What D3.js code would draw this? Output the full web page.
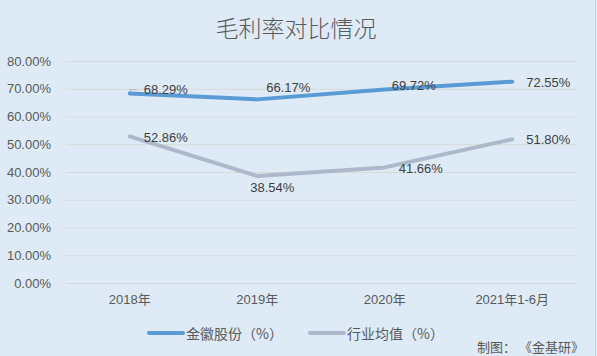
<!DOCTYPE html>
<html><head><meta charset="utf-8">
<script src="https://cdn.jsdelivr.net/npm/d3@7"></script>
<style>body{margin:0;padding:0;background:#deebf7;}svg{display:block;}</style>
</head><body>
<script>
const categories = ["2018年", "2019年", "2020年", "2021年1-6月"];
const seriesNames = ["金徽股份（%）", "行业均值（%）"];
const companyValues = [68.29, 66.17, 69.72, 72.55];
const industryValues = [52.86, 38.54, 41.66, 51.80];
const yTicks = [0, 10, 20, 30, 40, 50, 60, 70, 80];
const title = "毛利率对比情况";
const source = "制图： 《金基研》";

// label placement (layout only): [dx from point, dy of text centre]
const companyLabelOffsets = [[14, -3.5], [9, -11.5], [7, -4.5], [14, 1]];
const industryLabelOffsets = [[14, 1], [-7, 11], [14, 1.5], [14, 0.5]];

const W = 597, H = 356;
const colors = ["#5b9bd5", "#adb9ca"];
const latin = "'Liberation Sans', Arial, 'Noto Sans CJK SC', sans-serif";
const cjk = "'Noto Sans CJK SC', 'Liberation Sans', sans-serif";

const svg = d3.select("body").append("svg").attr("width", W).attr("height", H);
svg.append("rect").attr("width", W).attr("height", H).attr("fill", "#deebf7");
svg.append("line").attr("x1", 595.5).attr("x2", 595.5).attr("y1", 0).attr("y2", H)
  .attr("stroke", "#c8d2dc").attr("stroke-width", 1);

const x = d3.scaleBand().domain(categories).range([66, 576]);
const y = d3.scaleLinear().domain([0, 80]).range([283, 61]);
const cx = d => x(d) + x.bandwidth() / 2;

// title
svg.append("text").attr("x", 296).attr("y", 27).attr("text-anchor", "middle")
  .attr("dominant-baseline", "central").attr("font-family", cjk).attr("font-size", 23)
  .attr("font-weight", 300).attr("fill", "#595959").text(title);

// gridlines + y labels
const yAxis = svg.append("g").attr("transform", "translate(66,0)")
  .call(d3.axisLeft(y).tickValues(yTicks).tickSize(-510).tickPadding(15)
    .tickFormat(d => d.toFixed(2) + "%"));
yAxis.select(".domain").remove();
yAxis.selectAll(".tick line").attr("stroke", "#d9d9d9").attr("stroke-width", 1);
yAxis.selectAll(".tick text").attr("fill", "#595959").attr("font-family", latin)
  .attr("font-size", 13);

// x labels
const xAxis = svg.append("g").attr("transform", "translate(0,283)")
  .call(d3.axisBottom(x).tickSize(0).tickPadding(12));
xAxis.select(".domain").remove();
xAxis.selectAll(".tick text").attr("fill", "#595959").attr("font-family", latin)
  .attr("font-size", 13);

const line = d3.line().x((d, i) => cx(categories[i])).y(d => y(d));
const series = [companyValues, industryValues];
const offsets = [companyLabelOffsets, industryLabelOffsets];

series.slice().reverse().forEach((vals, k) => {
  const idx = series.length - 1 - k;
  svg.append("path").datum(vals).attr("d", line).attr("fill", "none")
    .attr("stroke", colors[idx]).attr("stroke-width", 4)
    .attr("stroke-linecap", "round").attr("stroke-linejoin", "round");
});

// leader line for first company label
{
  const px = cx(categories[0]), py = y(companyValues[0]);
  svg.append("path")
    .attr("d", `M${px},${py - 1.5} L${px},${py - 3.8} L${px + 7},${py - 3.8}`)
    .attr("fill", "none").attr("stroke", "#a6a6a6").attr("stroke-width", 0.8);
}

series.forEach((vals, s) => {
  svg.append("g").selectAll("text").data(vals).join("text")
    .attr("x", (d, i) => cx(categories[i]) + offsets[s][i][0])
    .attr("y", (d, i) => y(d) + offsets[s][i][1])
    .attr("dominant-baseline", "central")
    .attr("font-family", latin).attr("font-size", 13).attr("fill", "#404040")
    .text(d => d.toFixed(2) + "%");
});

// legend
const legendX = [149, 310];
seriesNames.forEach((name, i) => {
  svg.append("line").attr("x1", legendX[i]).attr("x2", legendX[i] + 34)
    .attr("y1", 333).attr("y2", 333).attr("stroke", colors[i]).attr("stroke-width", 4)
    .attr("stroke-linecap", "round");
  svg.append("text").attr("x", legendX[i] + 37).attr("y", 333)
    .attr("dominant-baseline", "central").attr("font-family", cjk).attr("font-size", 14)
    .attr("fill", "#595959").text(name);
});

svg.append("text").attr("x", 584).attr("y", 346).attr("text-anchor", "end")
  .attr("dominant-baseline", "central").attr("font-family", cjk).attr("font-size", 13)
  .attr("fill", "#595959").text(source);
</script>
</body></html>
